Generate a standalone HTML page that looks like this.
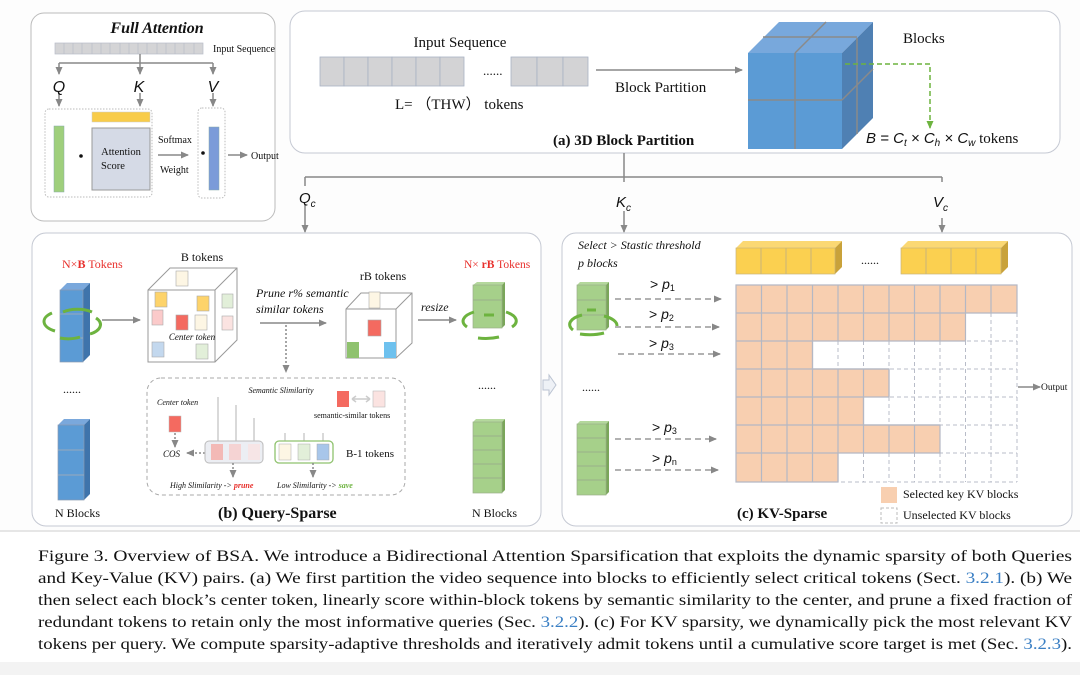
<!DOCTYPE html>
<html><head><meta charset="utf-8"><style>
body{margin:0;background:#fff;}
svg{display:block;}
text{font-family:"Liberation Serif",serif;fill:#111;}
.sans{font-family:"Liberation Sans",sans-serif;}
</style></head><body>
<svg width="1080" height="675" viewBox="0 0 1080 675" xmlns="http://www.w3.org/2000/svg">
<defs>
<marker id="ah" markerWidth="8" markerHeight="8" refX="7" refY="4" orient="auto" markerUnits="userSpaceOnUse"><path d="M0,0.5 L8,4 L0,7.5z" fill="#888"/></marker>
<marker id="ahg" markerWidth="8" markerHeight="8" refX="7" refY="4" orient="auto" markerUnits="userSpaceOnUse"><path d="M0,0.5 L8,4 L0,7.5z" fill="#6db33f"/></marker>
</defs>
<rect x="0" y="0" width="1080" height="530" fill="#fdfdfd"/>
<line x1="0" y1="531" x2="1080" y2="531" fill="none" stroke="#ccc"/>
<rect x="0" y="662" width="1080" height="13" fill="#f3f3f3"/>

<!-- Full attention -->
<rect x="31" y="13" width="244" height="208" rx="13" fill="#fff" stroke="#bbb"/>
<text x="157" y="33" text-anchor="middle" font-size="16" font-weight="bold" font-style="italic">Full Attention</text>
<g fill="#d4d4d6" stroke="#b8bcc8" stroke-width="0.7">
<rect x="55" y="43" width="148" height="11"/>
</g>
<g stroke="#b8bcc8" stroke-width="0.7">
<line x1="64" y1="43" x2="64" y2="54"/><line x1="73" y1="43" x2="73" y2="54"/><line x1="82" y1="43" x2="82" y2="54"/><line x1="92" y1="43" x2="92" y2="54"/><line x1="101" y1="43" x2="101" y2="54"/><line x1="110" y1="43" x2="110" y2="54"/><line x1="120" y1="43" x2="120" y2="54"/><line x1="129" y1="43" x2="129" y2="54"/><line x1="138" y1="43" x2="138" y2="54"/><line x1="147" y1="43" x2="147" y2="54"/><line x1="157" y1="43" x2="157" y2="54"/><line x1="166" y1="43" x2="166" y2="54"/><line x1="175" y1="43" x2="175" y2="54"/><line x1="184" y1="43" x2="184" y2="54"/><line x1="194" y1="43" x2="194" y2="54"/>
</g>
<text x="213" y="52" font-size="10">Input Sequence</text>
<g stroke="#888" stroke-width="1.5" fill="none">
<path d="M140,54 V63 M59,63 H213 M59,63 V74" marker-end="url(#ah)"/>
<path d="M140,63 V74" marker-end="url(#ah)"/>
<path d="M213,63 V74" marker-end="url(#ah)"/>
<path d="M59,93 V106" marker-end="url(#ah)"/>
<path d="M140,93 V106" marker-end="url(#ah)"/>
<path d="M213,93 V106" marker-end="url(#ah)"/>
<path d="M158,155 H188" marker-end="url(#ah)"/>
<path d="M228,155 H247" marker-end="url(#ah)"/>
</g>
<text class="sans" x="59" y="92" text-anchor="middle" font-size="16" font-style="italic">Q</text>
<text class="sans" x="139" y="92" text-anchor="middle" font-size="16" font-style="italic">K</text>
<text class="sans" x="213" y="92" text-anchor="middle" font-size="16" font-style="italic">V</text>
<rect x="45" y="109" width="107" height="88" rx="4" fill="none" stroke="#bbb" stroke-dasharray="1.5,1.5"/>
<rect x="198" y="108" width="27" height="90" rx="4" fill="none" stroke="#bbb" stroke-dasharray="1.5,1.5"/>
<rect x="54" y="126" width="10" height="66" fill="#9fcf7c" stroke="#8aa" stroke-width="0.5"/>
<circle cx="81" cy="156" r="1.8" fill="#111"/>
<rect x="92" y="112" width="58" height="10" fill="#f8cc4a" stroke="#ccc" stroke-width="0.5"/>
<rect x="92" y="128" width="58" height="62" fill="#d5dae6" stroke="#999"/>
<text x="121" y="155" text-anchor="middle" font-size="10.5">Attention</text>
<text x="113" y="169" text-anchor="middle" font-size="10.5">Score</text>
<text x="158" y="143" font-size="10">Softmax</text>
<text x="160" y="173" font-size="10">Weight</text>
<circle cx="203" cy="153" r="1.8" fill="#111"/>
<rect x="209" y="127" width="10" height="63" fill="#7b9bd9" stroke="#8aa" stroke-width="0.5"/>
<text x="251" y="159" font-size="10">Output</text>

<!-- (a) -->
<rect x="290" y="11" width="770" height="142" rx="15" fill="#fff" stroke="#c5c9d3"/>
<text x="460" y="47" text-anchor="middle" font-size="15">Input Sequence</text>
<g fill="#d3d3d5" stroke="#a9b2c4" stroke-width="0.8">
<rect x="320" y="57" width="24" height="29"/><rect x="344" y="57" width="24" height="29"/><rect x="368" y="57" width="24" height="29"/><rect x="392" y="57" width="24" height="29"/><rect x="416" y="57" width="24" height="29"/><rect x="440" y="57" width="24" height="29"/>
<rect x="511" y="57" width="26" height="29"/><rect x="537" y="57" width="26" height="29"/><rect x="563" y="57" width="25" height="29"/>
</g>
<text x="483" y="75" font-size="13">......</text>
<text x="395" y="109" font-size="15">L= （THW） tokens</text>
<path d="M596,70 H742" stroke="#888" stroke-width="1.5" marker-end="url(#ah)"/>
<text x="615" y="92" font-size="15">Block Partition</text>
<text x="553" y="145" font-size="15" font-weight="bold">(a) 3D Block Partition</text>
<!-- cube -->
<polygon points="748,53 779,22 873,22 842,53" fill="#78a8dc"/>
<polygon points="842,53 873,22 873,118 842,149" fill="#4f80b3"/>
<rect x="748" y="53" width="94" height="96" fill="#5b9bd5"/>
<g stroke="#8a8a8a" stroke-width="1.5" fill="none">
<line x1="795" y1="53" x2="826" y2="22"/><line x1="763" y1="37" x2="857" y2="37"/>
<line x1="795" y1="53" x2="795" y2="149"/><line x1="748" y1="100" x2="842" y2="100"/>
<line x1="857" y1="38" x2="857" y2="134"/><line x1="842" y1="100" x2="873" y2="69"/>
</g>
<text x="903" y="43" font-size="15">Blocks</text>
<path d="M845,64 H930 V128" fill="none" stroke="#6db33f" stroke-width="1.5" stroke-dasharray="5,3" marker-end="url(#ahg)"/>
<text class="sans" x="866" y="143" font-size="15" font-style="italic">B = C<tspan font-size="10" dy="3">t</tspan><tspan dy="-3"> × C</tspan><tspan font-size="10" dy="3">h</tspan><tspan dy="-3"> × C</tspan><tspan font-size="10" dy="3">w</tspan><tspan dy="-3" font-style="normal" font-family="Liberation Serif">  tokens</tspan></text>

<!-- connectors -->
<g stroke="#888" stroke-width="1.5" fill="none">
<path d="M624,153 V177 M305,177 H942 M305,177 V186 M942,177 V182"/>
<path d="M305,205 V232" marker-end="url(#ah)"/>
<path d="M624,211 V232" marker-end="url(#ah)"/>
<path d="M942,218 V232" marker-end="url(#ah)"/>
<path d="M624,177 V182"/>
</g>
<text class="sans" x="299" y="203" font-size="15" font-style="italic">Q<tspan font-size="10" dy="4">c</tspan></text>
<text class="sans" x="616" y="207" font-size="15" font-style="italic">K<tspan font-size="10" dy="4">c</tspan></text>
<text class="sans" x="933" y="207" font-size="15" font-style="italic">V<tspan font-size="10" dy="4">c</tspan></text>

<!-- (b) -->
<rect x="32" y="233" width="509" height="293" rx="14" fill="#fff" stroke="#c5c9d3"/>
<text x="62" y="268" font-size="12" fill="#e8302c" style="fill:#e8302c">N×<tspan font-weight="bold">B</tspan> Tokens</text>
<!-- blue stack top -->
<g>
<polygon points="60,290 67,283 90,283 83,290" fill="#7aa8dc"/>
<polygon points="83,290 90,283 90,355 83,362" fill="#3f74ab"/>
<rect x="60" y="290" width="23" height="72" fill="#5b9bd5" stroke="#8a9ab0" stroke-width="0.7"/>
<line x1="60" y1="314" x2="83" y2="314" stroke="#9ab" stroke-width="1"/><line x1="60" y1="338" x2="83" y2="338" stroke="#9ab"/>
</g>
<path d="M55,331 A22,11 0 0 1 52,313 M63,312 A22,11 0 0 1 92,312 M96,318 A22,11 0 0 1 90,334 M80,337 A22,11 0 0 1 60,338" fill="none" stroke="#6db33f" stroke-width="3"/>
<path d="M102,320 H140" stroke="#888" stroke-width="1.5" marker-end="url(#ah)"/>
<text x="202" y="261" text-anchor="middle" font-size="12">B tokens</text>
<g fill="#fff" stroke="#999" stroke-width="1">
<polygon points="148,290 170,268 237,268 237,340 215,362 148,362"/>
<line x1="148" y1="290" x2="215" y2="290"/><line x1="215" y1="290" x2="237" y2="268"/><line x1="215" y1="290" x2="215" y2="362"/>
</g>
<g stroke="#aaa" stroke-width="0.6">
<rect x="176" y="271" width="12" height="15" fill="#fdf6e4"/>
<rect x="155" y="292" width="12" height="15" fill="#fdd36a"/>
<rect x="197" y="296" width="12" height="15" fill="#fdd36a"/>
<rect x="222" y="294" width="11" height="14" fill="#e2efd9"/>
<rect x="152" y="310" width="11" height="15" fill="#fbcaca"/>
<rect x="176" y="315" width="12" height="15" fill="#f46a60"/>
<rect x="195" y="315" width="12" height="15" fill="#fdf6e4"/>
<rect x="222" y="316" width="11" height="14" fill="#fbe3e1"/>
<rect x="152" y="342" width="12" height="15" fill="#c3d8ee"/>
<rect x="196" y="344" width="12" height="15" fill="#e2efd9"/>
</g>
<text x="192" y="340" text-anchor="middle" font-size="9" font-style="italic">Center token</text>
<text x="256" y="297" font-size="12" font-style="italic">Prune r% semantic</text>
<text x="256" y="313" font-size="12" font-style="italic">similar tokens</text>
<path d="M260,323 H326" stroke="#888" stroke-width="1.5" marker-end="url(#ah)"/>
<path d="M286,325 V372" stroke="#888" stroke-width="1.5" stroke-dasharray="2,2" marker-end="url(#ah)"/>
<text x="383" y="280" text-anchor="middle" font-size="12">rB tokens</text>
<g fill="#fff" stroke="#999">
<polygon points="346,309 361,293 412,293 412,343 396,358 346,358"/>
<line x1="346" y1="309" x2="396" y2="309"/><line x1="396" y1="309" x2="412" y2="293"/><line x1="396" y1="309" x2="396" y2="358"/>
</g>
<rect x="369" y="292" width="11" height="16" fill="#fdf6e4" stroke="#aaa" stroke-width="0.6"/>
<rect x="368" y="320" width="13" height="16" fill="#f46a60" stroke="#aaa" stroke-width="0.6"/>
<rect x="347" y="342" width="12" height="16" fill="#8fc26e"/>
<rect x="384" y="342" width="12" height="16" fill="#6ec1ee"/>
<text x="421" y="311" font-size="12" font-style="italic">resize</text>
<path d="M418,320 H456" stroke="#888" stroke-width="1.5" marker-end="url(#ah)"/>
<text x="464" y="268" font-size="11.5" fill="#e8302c" style="fill:#e8302c">N× <tspan font-weight="bold">rB</tspan> Tokens</text>
<g>
<polygon points="473,285 477,282 505,282 502,285" fill="#b4d89c"/>
<polygon points="502,285 505,282 505,325 502,328" fill="#7aa65a"/>
<rect x="473" y="285" width="29" height="43" fill="#a6d08a" stroke="#9bb08a" stroke-width="0.7"/>
<line x1="473" y1="300" x2="502" y2="300" stroke="#9bb08a"/>
</g>
<path d="M467,327 A25,11 0 0 1 474,312 M484,315 H494 M506,312 A25,11 0 0 1 512,327 M499,337 A25,9 0 0 1 478,338" fill="none" stroke="#6db33f" stroke-width="3"/>
<text x="63" y="393" font-size="12">......</text>
<text x="478" y="389" font-size="12">......</text>
<g>
<polygon points="58,425 64,419 90,419 84,425" fill="#7aa8dc"/>
<polygon points="84,425 90,419 90,494 84,500" fill="#3f74ab"/>
<rect x="58" y="425" width="26" height="75" fill="#5b9bd5" stroke="#8a9ab0" stroke-width="0.7"/>
<line x1="58" y1="450" x2="84" y2="450" stroke="#9ab"/><line x1="58" y1="475" x2="84" y2="475" stroke="#9ab"/>
</g>
<g>
<polygon points="473,422 476,419 505,419 502,422" fill="#b4d89c"/>
<polygon points="502,422 505,419 505,490 502,493" fill="#7aa65a"/>
<rect x="473" y="422" width="29" height="71" fill="#a6d08a" stroke="#9bb08a" stroke-width="0.7"/>
<line x1="473" y1="436" x2="502" y2="436" stroke="#9bb08a"/><line x1="473" y1="450" x2="502" y2="450" stroke="#9bb08a"/><line x1="473" y1="464" x2="502" y2="464" stroke="#9bb08a"/><line x1="473" y1="478" x2="502" y2="478" stroke="#9bb08a"/>
</g>
<text x="55" y="517" font-size="12">N Blocks</text>
<text x="472" y="517" font-size="12">N Blocks</text>
<text x="218" y="518" font-size="16" font-weight="bold">(b) Query-Sparse</text>
<!-- inner dashed -->
<rect x="147" y="378" width="258" height="117" rx="14" fill="none" stroke="#aaa" stroke-dasharray="4,3"/>
<text x="281" y="393" text-anchor="middle" font-size="8" font-style="italic">Semantic Slimilarity</text>
<text x="157" y="405" font-size="8" font-style="italic">Center token</text>
<rect x="169" y="416" width="12" height="16" fill="#f46a60" stroke="#bbb" stroke-width="0.5"/>
<path d="M175,433 V447" stroke="#888" stroke-dasharray="2,2" stroke-width="1.5" marker-end="url(#ah)"/>
<text x="163" y="457" font-size="9" font-style="italic">COS</text>
<path d="M205,453 H187" stroke="#888" stroke-dasharray="2,2" stroke-width="1.5" marker-end="url(#ah)"/>
<g stroke="#ccc" stroke-width="1.5"><line x1="218" y1="397" x2="218" y2="441"/><line x1="236" y1="405" x2="236" y2="441"/><line x1="254" y1="418" x2="254" y2="441"/><line x1="285" y1="433" x2="285" y2="441"/><line x1="304" y1="433" x2="304" y2="441"/><line x1="323" y1="433" x2="323" y2="441"/></g>
<rect x="205" y="441" width="58" height="22" rx="4" fill="#eceef3" stroke="#bbb"/>
<rect x="211" y="444" width="12" height="16" fill="#f3b9b6"/><rect x="229" y="444" width="12" height="16" fill="#f5d3d3"/><rect x="248" y="444" width="12" height="16" fill="#f6e5e6"/>
<rect x="275" y="441" width="58" height="22" rx="4" fill="#fff" stroke="#8fc26e" stroke-width="1.3"/>
<rect x="279" y="444" width="12" height="16" fill="#fdf6e4" stroke="#aaa" stroke-width="0.5"/><rect x="298" y="444" width="12" height="16" fill="#e2efd9" stroke="#aaa" stroke-width="0.5"/><rect x="317" y="444" width="12" height="16" fill="#a8c6ea" stroke="#aaa" stroke-width="0.5"/>
<text x="346" y="457" font-size="11">B-1 tokens</text>
<path d="M233,463 V477" stroke="#888" stroke-dasharray="2,2" stroke-width="1.5" marker-end="url(#ah)"/>
<path d="M313,463 V477" stroke="#888" stroke-dasharray="2,2" stroke-width="1.5" marker-end="url(#ah)"/>
<text x="170" y="488" font-size="8" font-style="italic">High Slimilarity -&gt; <tspan fill="#e8302c" style="fill:#e8302c" font-weight="bold">prune</tspan></text>
<text x="277" y="488" font-size="8" font-style="italic">Low Slimilarity -&gt; <tspan fill="#6db33f" style="fill:#6db33f" font-weight="bold">save</tspan></text>
<rect x="337" y="391" width="12" height="16" fill="#f46a60"/>
<rect x="373" y="391" width="12" height="16" fill="#fbe3e1" stroke="#bbb" stroke-width="0.6"/>
<path d="M352,399 H370 M352,399 l4,-3 M352,399 l4,3 M370,399 l-4,-3 M370,399 l-4,3" stroke="#ccc" stroke-width="1.5" fill="none"/>
<text x="314" y="418" font-size="8">semantic-similar  tokens</text>

<!-- arrow between -->
<path d="M543,380 H549 V375 L556,385 L549,395 V390 H543Z" fill="#eef1f6" stroke="#bcc4d2"/>

<!-- (c) -->
<rect x="562" y="233" width="510" height="293" rx="14" fill="#fff" stroke="#c5c9d3"/>
<text x="578" y="249" font-size="12" font-style="italic">Select &gt; Stastic threshold</text>
<text x="578" y="267" font-size="12" font-style="italic">p blocks</text>
<g>
<polygon points="736,248 743,241 842,241 835,248" fill="#fbd873"/>
<polygon points="835,248 842,241 842,267 835,274" fill="#c9a23a"/>
<rect x="736" y="248" width="99" height="26" fill="#fbd050" stroke="#c9b57a" stroke-width="0.7"/>
<line x1="761" y1="248" x2="761" y2="274" stroke="#c9b57a"/><line x1="786" y1="248" x2="786" y2="274" stroke="#c9b57a"/><line x1="811" y1="248" x2="811" y2="274" stroke="#c9b57a"/>
<polygon points="901,248 908,241 1008,241 1001,248" fill="#fbd873"/>
<polygon points="1001,248 1008,241 1008,267 1001,274" fill="#c9a23a"/>
<rect x="901" y="248" width="100" height="26" fill="#fbd050" stroke="#c9b57a" stroke-width="0.7"/>
<line x1="926" y1="248" x2="926" y2="274" stroke="#c9b57a"/><line x1="951" y1="248" x2="951" y2="274" stroke="#c9b57a"/><line x1="976" y1="248" x2="976" y2="274" stroke="#c9b57a"/>
</g>
<text x="861" y="264" font-size="12">......</text>
<!-- grid -->
<g id="grid" stroke-width="1"></g>
<g>
<rect x="736" y="285" width="281" height="197" fill="#fff"/>
<g fill="none" stroke="#b8bcc8" stroke-dasharray="4,3">
<path d="M761.5,285V482M787,285V482M812.5,285V482M838,285V482M863.5,285V482M889,285V482M914.5,285V482M940,285V482M965.5,285V482M991,285V482M1017,285V482"/>
<path d="M736,313H1017M736,341H1017M736,369H1017M736,397H1017M736,425H1017M736,453H1017M736,482H1017"/>
</g>
<g fill="#f8cfb0">
<rect x="736" y="285" width="281" height="28"/>
<rect x="736" y="313" width="229.5" height="28"/>
<rect x="736" y="341" width="76.5" height="28"/>
<rect x="736" y="369" width="153" height="28"/>
<rect x="736" y="397" width="127.5" height="28"/>
<rect x="736" y="425" width="204" height="28"/>
<rect x="736" y="453" width="102" height="29"/>
</g>
<g stroke="#b4b8c4" stroke-width="1.2" fill="none">
<path d="M736,285H1017V313H965.5V341H812.5V369H889V397H863.5V425H940V453H838V482H736Z"/>
<path d="M761.5,285V482M787,285V482M812.5,285V369M812.5,369V482M838,285V341M838,369V482M863.5,285V341M863.5,369V453M889,285V341M889,369V397M889,425V453M914.5,285V341M914.5,425V453M940,285V341M965.5,285V313M991,285V313"/>
<path d="M736,313H965.5M736,341H812.5M736,369H889M736,397H863.5M736,425H940M736,453H838"/>
</g>
</g>
<path d="M1018,387 H1040" stroke="#888" stroke-width="1.5" marker-end="url(#ah)"/>
<text x="1041" y="390" font-size="9.5">Output</text>
<!-- green stacks -->
<g>
<polygon points="577,285 580,282 609,282 606,285" fill="#b4d89c"/>
<polygon points="606,285 609,282 609,327 606,330" fill="#7aa65a"/>
<rect x="577" y="285" width="29" height="45" fill="#a6d08a" stroke="#9bb08a" stroke-width="0.7"/>
<line x1="577" y1="300" x2="606" y2="300" stroke="#9bb08a"/><line x1="577" y1="315" x2="606" y2="315" stroke="#9bb08a"/>
</g>
<path d="M573,330 A25,11 0 0 1 582,315 M587,310 H596 M604,316 A25,11 0 0 1 617,326 M604,333 A25,9 0 0 1 580,334" fill="none" stroke="#6db33f" stroke-width="3"/>
<text x="582" y="391" font-size="12">......</text>
<g>
<polygon points="577,424 580,421 609,421 606,424" fill="#b4d89c"/>
<polygon points="606,424 609,421 609,492 606,495" fill="#7aa65a"/>
<rect x="577" y="424" width="29" height="71" fill="#a6d08a" stroke="#9bb08a" stroke-width="0.7"/>
<line x1="577" y1="438" x2="606" y2="438" stroke="#9bb08a"/><line x1="577" y1="452" x2="606" y2="452" stroke="#9bb08a"/><line x1="577" y1="466" x2="606" y2="466" stroke="#9bb08a"/><line x1="577" y1="480" x2="606" y2="480" stroke="#9bb08a"/>
</g>
<g stroke="#999" stroke-width="1.5" stroke-dasharray="6,4" fill="none">
<path d="M615,299 H721" marker-end="url(#ah)"/>
<path d="M615,327 H719" marker-end="url(#ah)"/>
<path d="M618,354 H720" marker-end="url(#ah)"/>
<path d="M615,439 H716" marker-end="url(#ah)"/>
<path d="M615,470 H718" marker-end="url(#ah)"/>
</g>
<g class="sans" font-size="14">
<text class="sans" x="650" y="289">&gt; <tspan font-style="italic">p</tspan><tspan font-size="9" dy="2">1</tspan></text>
<text class="sans" x="649" y="319">&gt; <tspan font-style="italic">p</tspan><tspan font-size="9" dy="2">2</tspan></text>
<text class="sans" x="649" y="348">&gt; <tspan font-style="italic">p</tspan><tspan font-size="9" dy="2">3</tspan></text>
<text class="sans" x="652" y="432">&gt; <tspan font-style="italic">p</tspan><tspan font-size="9" dy="2">3</tspan></text>
<text class="sans" x="652" y="463">&gt; <tspan font-style="italic">p</tspan><tspan font-size="9" dy="2">n</tspan></text>
</g>
<rect x="881" y="487" width="16" height="16" fill="#f8cfb0"/>
<text x="903" y="498" font-size="12">Selected key KV blocks</text>
<rect x="881" y="508" width="16" height="15" fill="none" stroke="#bbb" stroke-dasharray="3,2"/>
<text x="903" y="519" font-size="12">Unselected  KV blocks</text>
<text x="737" y="518" font-size="15" font-weight="bold">(c) KV-Sparse</text>

<!-- caption -->
<g font-size="15.5">
<text x="38" y="561" textLength="1034" lengthAdjust="spacingAndGlyphs">Figure 3.  Overview of BSA. We introduce a Bidirectional Attention Sparsification that exploits the dynamic sparsity of both Queries</text>
<text x="38" y="583" textLength="1034" lengthAdjust="spacingAndGlyphs">and Key-Value (KV) pairs.  (a) We first partition the video sequence into blocks to efficiently select critical tokens (Sect. <tspan fill="#3a7fc4" style="fill:#3a7fc4">3.2.1</tspan>).  (b) We</text>
<text x="38" y="605" textLength="1034" lengthAdjust="spacingAndGlyphs">then select each block’s center token, linearly score within-block tokens by semantic similarity to the center, and prune a fixed fraction of</text>
<text x="38" y="627" textLength="1034" lengthAdjust="spacingAndGlyphs">redundant tokens to retain only the most informative queries (Sec. <tspan fill="#3a7fc4" style="fill:#3a7fc4">3.2.2</tspan>). (c) For KV sparsity, we dynamically pick the most relevant KV</text>
<text x="38" y="649" textLength="1034" lengthAdjust="spacingAndGlyphs">tokens per query. We compute sparsity-adaptive thresholds and iteratively admit tokens until a cumulative score target is met (Sec. <tspan fill="#3a7fc4" style="fill:#3a7fc4">3.2.3</tspan>).</text>
</g>
</svg>
</body></html>
